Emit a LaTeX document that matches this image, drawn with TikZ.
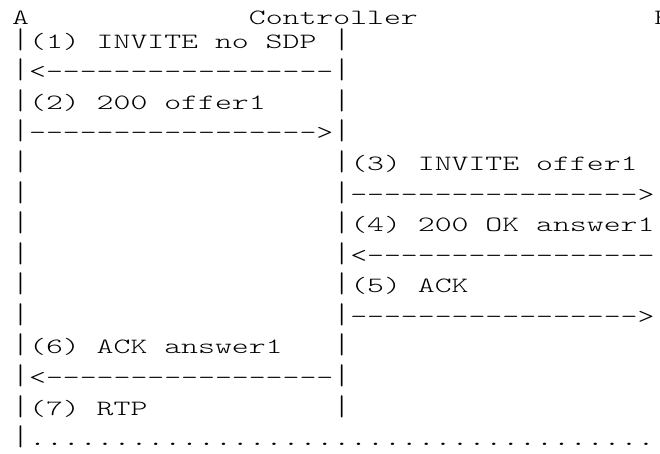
\documentclass[tikz,border=0pt]{standalone}
\usepackage{graphicx}
\usepackage{fontspec}
\newfontfamily\monolight{lmmonolt10-regular.otf}
\tikzset{
  ch/.style={anchor=base west, inner sep=0pt, outer sep=0pt,
    font=\fontsize{21.8}{26}\selectfont\monolight, text=black}
}
\newcommand\sx[1]{\scalebox{1.4766}[1]{#1}}
\newcommand\rep[2]{\foreach \i in {1,...,#1}{#2}}
% name, column, row, text
\newcommand\cell[4]{\node[ch] (#1) at ({12.25+16.9*(#2)},{-(17.74+30.56*(#3))}) {\sx{#4}};}
% name, column, row : a "|" character, drawn a little taller
\newcommand\vbar[3]{\node[ch] (#1) at ({12.25+16.9*(#2)},{-(17.74+30.56*(#3))}) {\scalebox{1.4766}[1.3]{|}};}
\begin{document}
\begin{tikzpicture}[x=1pt,y=1pt]
\useasboundingbox (0,0) rectangle (660,-453);
\fill[white] (0,0) rectangle (660,-453);
\clip (0,0) rectangle (660,-453);
% header
\node[ch] (A) at (12.25,-24.5) {\sx{A}};
\node[ch] (ctl) at ({12.25+16.9*14},-24.5) {\sx{Controller}};
\node[ch] (B) at ({12.25+16.9*38},-24.5) {\sx{B}};
% lifelines
\foreach \r in {1,...,13}{
  \vbar{la\r}{0}{\r}
  \vbar{lc\r}{19}{\r}
}
\foreach \r in {1,...,14}{
  \vbar{lb\r}{38}{\r}
}
\vbar{la14}{0}{14}
% messages
\cell{m1}{1}{1}{(1) INVITE no SDP}
\cell{a1}{1}{2}{<\rep{17}{-}}
\cell{m2}{1}{3}{(2) 200 offer1}
\cell{a2}{1}{4}{\rep{17}{-}>}
\cell{m3}{20}{5}{(3) INVITE offer1}
\cell{a3}{20}{6}{\rep{17}{-}>}
\cell{m4}{20}{7}{(4) 200 OK answer1}
\cell{a4}{20}{8}{<\rep{17}{-}}
\cell{m5}{20}{9}{(5) ACK}
\cell{a5}{20}{10}{\rep{17}{-}>}
\cell{m6}{1}{11}{(6) ACK answer1}
\cell{a6}{1}{12}{<\rep{17}{-}}
\cell{m7}{1}{13}{(7) RTP}
\cell{rtp}{1}{14}{\rep{37}{.}}
\end{tikzpicture}
\end{document}
